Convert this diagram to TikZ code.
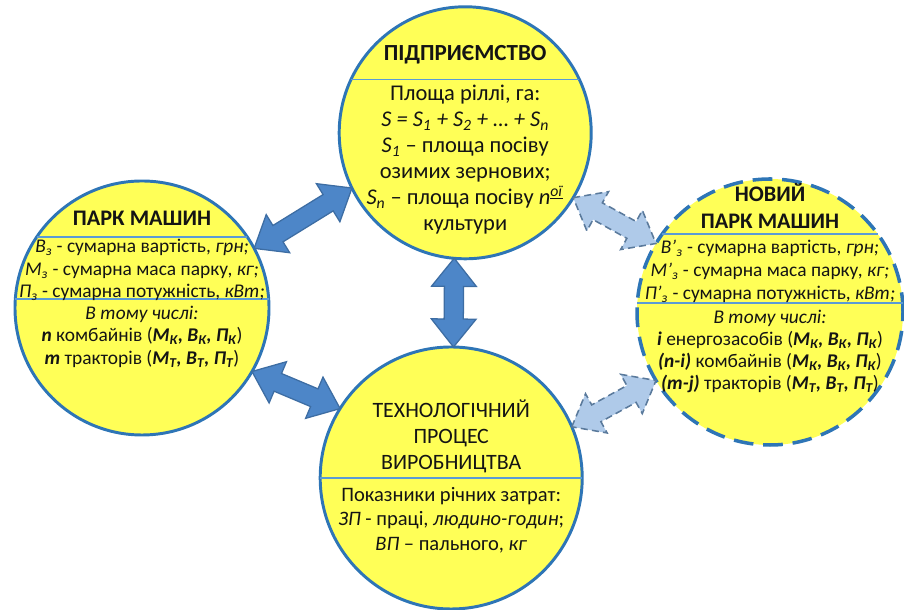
\documentclass[tikz,border=0pt]{standalone}
\usepackage{fontspec}
\setmainfont{Carlito}
\usetikzlibrary{calc}
\definecolor{Lemon}{HTML}{FFFF57}
\definecolor{Ring}{HTML}{2E75B6}
\definecolor{Split}{HTML}{5B9BD5}
\definecolor{Flow}{HTML}{4D86C8}
\definecolor{FlowEdge}{HTML}{3D6DA3}
\definecolor{Ghost}{HTML}{AFCAE9}
\definecolor{GhostEdge}{HTML}{5A7A9C}
\definecolor{Ink}{HTML}{141414}

\begin{document}
\begin{tikzpicture}[x=1cm,y=1cm,
  hub/.style={circle,draw=Ring,line width=2.1pt,fill=Lemon,inner sep=0pt,outer sep=0pt},
  newhub/.style={hub,dash pattern=on 14pt off 7pt,line width=2.5pt},
  split/.style={draw=Split,line width=1.3pt},
  headtxt/.style={align=center,text=Ink,font=\bfseries\fontsize{15.8}{19.2}\selectfont},
  bodytxt/.style={align=center,text=Ink,font=\fontsize{16}{18.5}\selectfont},
  smalltxt/.style={align=center,text=Ink,font=\fontsize{13.8}{16}\selectfont},
  flow/.style={fill=Flow,draw=FlowEdge,line width=0.9pt},
  ghostflow/.style={fill=Ghost,draw=GhostEdge,line width=1.1pt,dash pattern=on 5pt off 3pt}]
  \useasboundingbox (0,0) rectangle (22.6,15.25);

  \node[hub,minimum size=6.3cm] (firm) at (11.63,11.93) {};
  \node[hub,minimum size=6.35cm] (lpark) at (3.55,7.55) {};
  \node[hub,minimum size=6.55cm] (proc) at (11.28,3.3) {};
  \node[newhub,minimum size=6.65cm] (npark) at (19.25,7.45) {};

  \draw[split] (firm.155) -- (firm.25);
  \draw[split] (lpark.146) -- (lpark.34);
  \draw[split] (lpark.176) -- (lpark.4);
  \draw[split] (npark.144) -- (npark.36);
  \draw[split] (npark.176) -- (npark.4);
  \draw[split] (proc.180) -- (proc.0);

  % two-way arrows
  \foreach \a/\b in {lpark.28/firm.206,lpark.330/proc.148,firm.265/proc.89}{
    \coordinate (ha) at ($(\a)!0.7cm!(\b)$);
    \coordinate (hb) at ($(\b)!0.7cm!(\a)$);
    \draw[flow] (\a) -- ($(ha)!0.56cm!90:(\b)$) -- ($(ha)!0.24cm!90:(\b)$)
      -- ($(hb)!0.24cm!-90:(\a)$) -- ($(hb)!0.56cm!-90:(\a)$) -- (\b)
      -- ($(hb)!0.56cm!90:(\a)$) -- ($(hb)!0.24cm!90:(\a)$)
      -- ($(ha)!0.24cm!-90:(\b)$) -- ($(ha)!0.56cm!-90:(\b)$) -- cycle;
  }
  \foreach \a/\b in {firm.329/npark.149,proc.23/npark.211}{
    \coordinate (ha) at ($(\a)!0.7cm!(\b)$);
    \coordinate (hb) at ($(\b)!0.7cm!(\a)$);
    \draw[ghostflow] (\a) -- ($(ha)!0.56cm!90:(\b)$) -- ($(ha)!0.24cm!90:(\b)$)
      -- ($(hb)!0.24cm!-90:(\a)$) -- ($(hb)!0.56cm!-90:(\a)$) -- (\b)
      -- ($(hb)!0.56cm!90:(\a)$) -- ($(hb)!0.24cm!90:(\a)$)
      -- ($(ha)!0.24cm!-90:(\b)$) -- ($(ha)!0.56cm!-90:(\b)$) -- cycle;
  }

  \node[headtxt,font=\bfseries\fontsize{16.4}{19}\selectfont] (firmhead) at (11.63,13.88) {ПІДПРИЄМСТВО};
  \node[bodytxt] (firmbody) at (11.63,11.25) {Площа ріллі, га:\\
    \textit{S = S\textsubscript{1} + S\textsubscript{2} + … + S\textsubscript{n}}\\
    \textit{S\textsubscript{1}} – площа посіву\\
    озимих зернових;\\
    \textit{S\textsubscript{n}} – площа посіву \textit{n}\textsuperscript{\underline{\textit{ої}}}\\
    культури};

  \node[headtxt] (lparkhead) at (3.55,9.8) {ПАРК МАШИН};
  \node[smalltxt] (lparkbody) at (3.55,8.5) {\textit{В\textsubscript{з}} - сумарна вартість, \textit{грн;}\\
    \textit{М\textsubscript{з}} - сумарна маса парку, \textit{кг;}\\
    \textit{П\textsubscript{з}} - сумарна потужність, \textit{кВт;}};
  \node[smalltxt] (lparkpart) at (3.55,6.83) {\textit{В тому числі:}\\
    \textbf{\textit{n}} комбайнів (\textbf{\textit{М\textsubscript{К}, В\textsubscript{К}, П\textsubscript{К}}})\\
    \textbf{\textit{m}} тракторів (\textbf{\textit{М\textsubscript{Т}, В\textsubscript{Т}, П\textsubscript{Т}}})};

  \node[headtxt] (nparkhead) at (19.25,10.09) {НОВИЙ\\ПАРК МАШИН};
  \node[smalltxt,font=\fontsize{13.8}{16.2}\selectfont] (nparkbody) at (19.25,8.47) {\textit{В’\textsubscript{з}} - сумарна вартість, \textit{грн;}\\
    \textit{М’\textsubscript{з}} - сумарна маса парку, \textit{кг;}\\
    \textit{П’\textsubscript{з}} - сумарна потужність, \textit{кВт;}};
  \node[smalltxt,font=\fontsize{13.8}{15.8}\selectfont] (nparkpart) at (19.25,6.46) {\textit{В тому числі:}\\
    \textbf{\textit{i}} енергозасобів (\textbf{\textit{М\textsubscript{К}, В\textsubscript{К}, П\textsubscript{К}}})\\
    \textbf{\textit{(n-i)}} комбайнів (\textbf{\textit{М\textsubscript{К}, В\textsubscript{К}, П\textsubscript{К}}})\\
    \textbf{\textit{(m-j)}} тракторів (\textbf{\textit{М\textsubscript{Т}, В\textsubscript{Т}, П\textsubscript{Т}}})};

  \node[headtxt,font=\fontsize{15.6}{18.5}\selectfont] (prochead) at (11.28,4.33) {ТЕХНОЛОГІЧНИЙ\\ПРОЦЕС\\ВИРОБНИЦТВА};
  \node[smalltxt,font=\fontsize{14.6}{17.4}\selectfont] (procbody) at (11.28,2.25) {Показники річних затрат:\\
    \textit{ЗП} - праці, \textit{людино-годин};\\
    \textit{ВП} – пального, \textit{кг}};
\end{tikzpicture}
\end{document}
